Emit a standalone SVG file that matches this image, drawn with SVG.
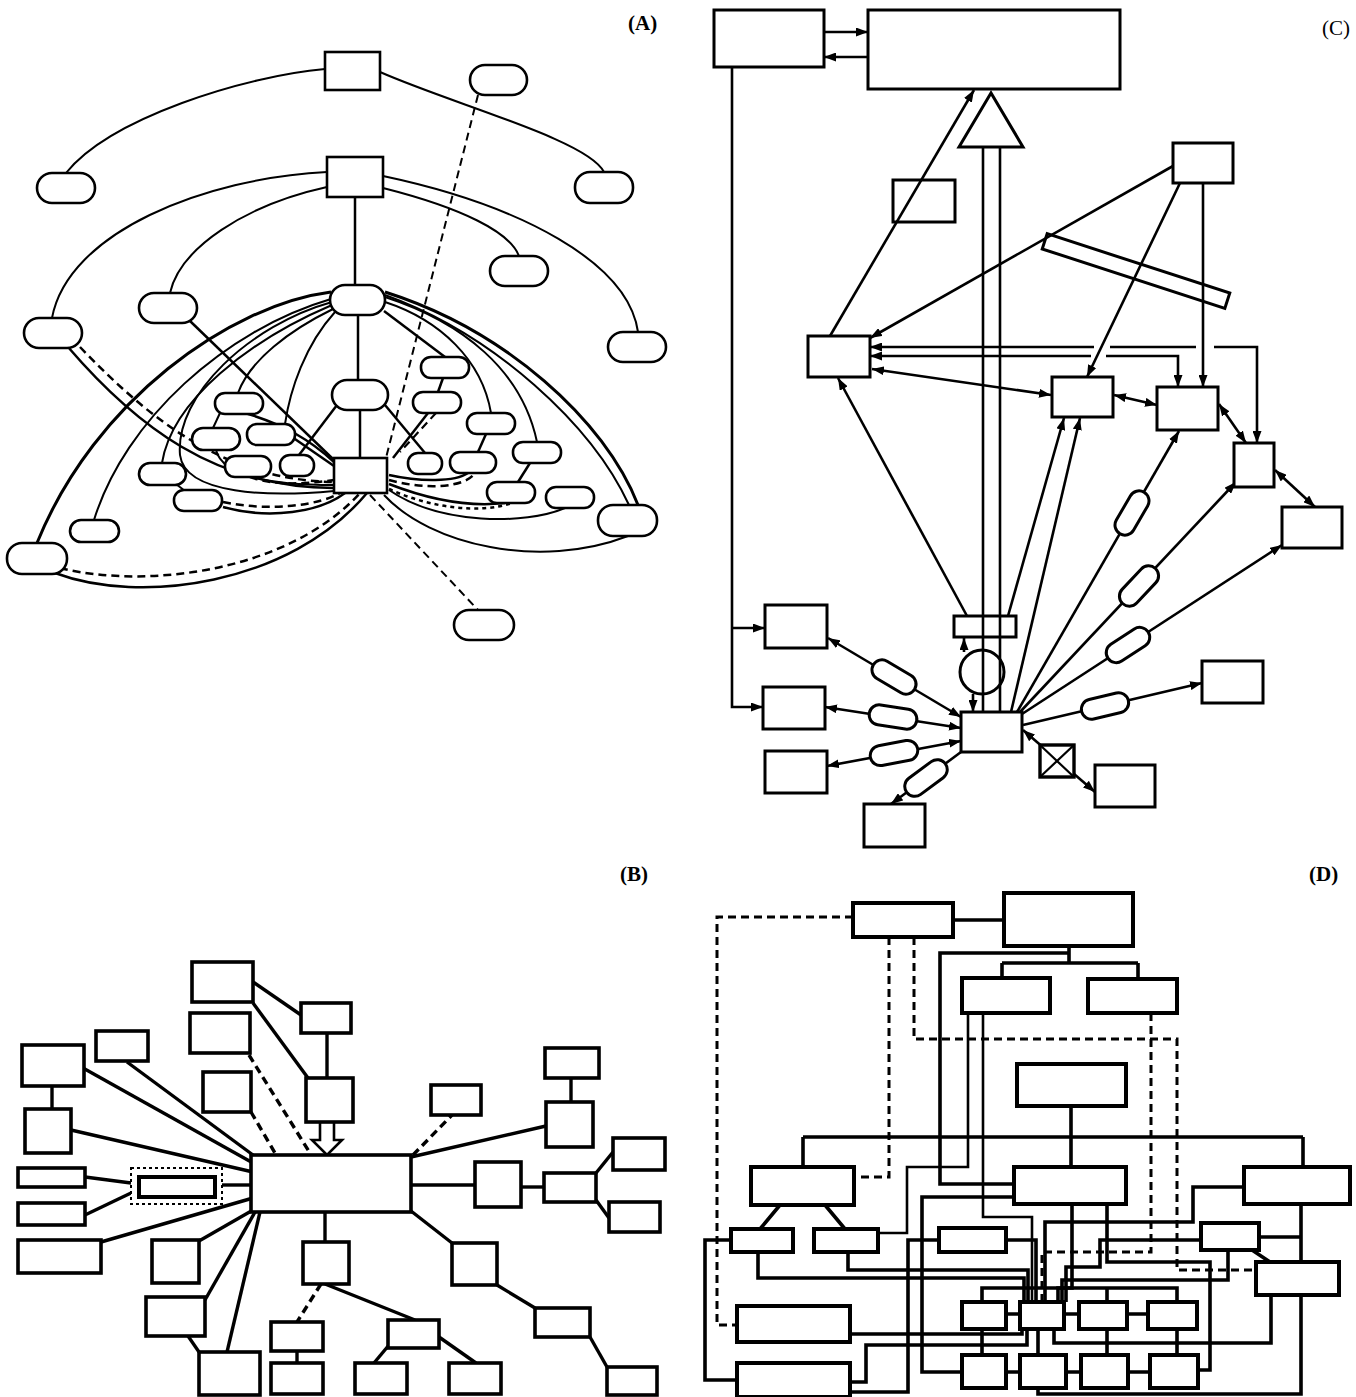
<svg xmlns="http://www.w3.org/2000/svg" width="1356" height="1397" viewBox="0 0 1356 1397">
<style>
.lbl{font-family:"Liberation Serif",serif;font-size:21px;fill:#000}
.b{font-weight:bold}
.n rect,.n circle,.n polygon{fill:#fff;stroke:#000}
.a rect{stroke-width:2.6}
.c rect{stroke-width:3}
.bb rect{stroke-width:3.6}
.d rect{stroke-width:4}
.e{fill:none;stroke:#000}
.ea path{stroke-width:2}
.ec path{stroke-width:2.6}
.eb path{stroke-width:3.4}
.ed path{stroke-width:3.6}
.dash{stroke-dasharray:8 5}
.dot{stroke-dasharray:4 4}
.n .open{fill:none}
</style>
<defs>
<marker id="ah" viewBox="0 0 12 9" refX="12" refY="4.5" markerWidth="12" markerHeight="9" markerUnits="userSpaceOnUse" orient="auto-start-reverse">
<path d="M0,0 L12,4.5 L0,9 z" fill="#000"/>
</marker>
</defs>
<rect width="1356" height="1397" fill="#fff"/>

<text class="lbl b" x="628" y="30">(A)</text>
<text class="lbl" x="1322" y="35">(C)</text>
<text class="lbl b" x="620" y="881">(B)</text>
<text class="lbl b" x="1309" y="881">(D)</text>

<g id="connectors">
<g id="conn-A" class="e ea">
<path d="M325,69 C245,76 110,118 66,173"/>
<path d="M380,72 C455,105 588,140 604,172"/>
<path class="dash" d="M478,95 L386,458"/>
<path d="M327,172 C205,178 68,232 52,318"/>
<path d="M327,187 C245,205 180,248 170,293"/>
<path d="M383,176 C520,205 628,262 638,332"/>
<path d="M383,188 C462,208 510,232 519,256"/>
<path d="M355,197 V285" style="stroke-width:2.5"/>
<path d="M358,315 V380" style="stroke-width:2.5"/>
<path d="M360,410 V458" style="stroke-width:2.5"/>
<path d="M337,405 L299,455" style="stroke-width:2.5"/>
<path d="M385,405 L425,453" style="stroke-width:2.5"/>
<path d="M331,292 C230,305 95,400 37,543" style="stroke-width:3"/>
<path d="M331,299 C225,330 125,420 94,520"/>
<path d="M332,305 C250,340 172,400 162,463"/>
<path d="M333,309 C290,330 250,360 238,393"/>
<path d="M335,312 C305,345 290,390 285,424"/>
<path d="M332,302 C250,325 175,395 180,455 C185,495 270,497 334,491"/>
<path d="M68,347 C135,425 215,488 334,488" style="stroke-width:2.5"/>
<path class="dash" d="M80,347 C150,420 225,480 334,482" style="stroke-width:2.5"/>
<path d="M190,321 L334,460" style="stroke-width:2.5"/>
<path d="M220,413 L213,428"/>
<path d="M245,413 C285,425 310,440 334,462" style="stroke-width:2.5"/>
<path d="M292,437 L334,466" style="stroke-width:2.5"/>
<path d="M216,450 C222,475 265,485 334,485"/>
<path class="dash" d="M250,477 C275,486 305,484 334,480" style="stroke-width:2.5"/>
<path d="M55,573 C140,605 290,585 367,493" style="stroke-width:2.5"/>
<path class="dash" d="M60,568 C150,590 290,570 360,493" style="stroke-width:2.5"/>
<path d="M176,484 L185,491"/>
<path d="M223,507 C270,520 320,512 345,493" style="stroke-width:2.5"/>
<path class="dash" d="M223,502 C270,512 320,505 340,493" style="stroke-width:2.5"/>
<path d="M445,357 L384,311" style="stroke-width:2.5"/>
<path d="M443,378 L438,392" style="stroke-width:2.5"/>
<path d="M428,413 L393,458" style="stroke-width:2.5"/>
<path class="dash" d="M436,413 L400,452" style="stroke-width:2.2"/>
<path d="M491,413 C482,360 440,320 385,302"/>
<path d="M486,434 L478,452" style="stroke-width:2.5"/>
<path d="M537,442 C522,370 462,322 385,297"/>
<path d="M530,463 L518,482" style="stroke-width:2.5"/>
<path d="M638,505 C605,420 505,330 385,292" style="stroke-width:3"/>
<path d="M629,505 C592,425 495,335 385,295"/>
<path d="M389,475 C420,482 455,482 468,473" style="stroke-width:2.5"/>
<path class="dash" d="M389,480 C425,490 465,488 475,473" style="stroke-width:2.5"/>
<path d="M389,484 C430,500 470,507 505,503" style="stroke-width:2.5"/>
<path class="dot" d="M389,489 C430,508 480,514 512,503" style="stroke-width:2.5"/>
<path d="M389,490 C440,525 525,525 565,508" style="stroke-width:2"/>
<path d="M384,495 C430,545 540,570 628,536" style="stroke-width:2"/>
<path class="dash" d="M370,495 L478,610" style="stroke-width:2"/>
</g>

<g id="conn-C" class="e ec">
<path d="M824,32 H868" marker-end="url(#ah)"/>
<path d="M868,57 H824" marker-end="url(#ah)"/>
<path d="M732,67 V707 H763" marker-end="url(#ah)"/>
<path d="M732,628 H765" marker-end="url(#ah)"/>
<path d="M830,336 L974,90" marker-end="url(#ah)"/>
<path d="M1173,166 L870,338" marker-end="url(#ah)"/>
<path d="M1180,183 L1087,377" marker-end="url(#ah)"/>
<path d="M1203,183 V387" marker-end="url(#ah)"/>
<path d="M1257,443 V347 H1214" marker-start="url(#ah)"/>
<path d="M1196,347 H1110"/>
<path d="M1094,347 H870" marker-end="url(#ah)"/>
<path d="M1178,387 V356 H1106" marker-start="url(#ah)"/>
<path d="M1091,356 H870" marker-end="url(#ah)"/>
<path d="M872,369 L1051,395" marker-start="url(#ah)" marker-end="url(#ah)"/>
<path d="M1114,395 L1157,405" marker-start="url(#ah)" marker-end="url(#ah)"/>
<path d="M1219,404 L1246,443" marker-start="url(#ah)" marker-end="url(#ah)"/>
<path d="M1275,470 L1315,507" marker-start="url(#ah)" marker-end="url(#ah)"/>
<path d="M967,616 L838,378" marker-end="url(#ah)"/>
<path d="M1008,616 L1064,418" marker-end="url(#ah)"/>
<path d="M1011,712 L1080,418" marker-end="url(#ah)"/>
<path d="M983,147 V712"/>
<path d="M1000,147 V712"/>
<path d="M964,652 V638" marker-end="url(#ah)"/>
<path d="M973,694 V712" marker-end="url(#ah)"/>
<path d="M961,717 L828,638" marker-start="url(#ah)" marker-end="url(#ah)"/>
<path d="M961,728 L825,707" marker-start="url(#ah)" marker-end="url(#ah)"/>
<path d="M961,741 L827,766" marker-start="url(#ah)" marker-end="url(#ah)"/>
<path d="M961,752 L891,804" marker-end="url(#ah)"/>
<path d="M1023,725 L1202,683" marker-end="url(#ah)"/>
<path d="M1023,730 L1095,792" marker-start="url(#ah)" marker-end="url(#ah)"/>
<path d="M1022,714 L1282,545" marker-end="url(#ah)"/>
<path d="M1020,712 L1236,482" marker-end="url(#ah)"/>
<path d="M1017,712 L1179,431" marker-end="url(#ah)"/>
</g>

<g id="conn-B" class="e eb">
<path d="M253,982 L301,1015"/>
<path d="M253,1003 L308,1078"/>
<path d="M327,1033 V1078"/>
<path d="M320,1122 V1140 H312 L327,1155 L342,1140 H334 V1122" style="fill:#fff;stroke-width:2.6"/>
<path class="dash" d="M249,1055 L310,1153"/>
<path class="dash" d="M251,1112 L275,1153"/>
<path d="M127,1062 L253,1155"/>
<path d="M83,1068 L253,1163"/>
<path d="M52,1086 V1109"/>
<path d="M71,1130 L253,1172"/>
<path d="M222,1185 H253"/>
<path d="M85,1177 L131,1183"/>
<path d="M85,1215 L131,1193"/>
<path d="M101,1242 L253,1198"/>
<path d="M199,1241 L253,1210"/>
<path d="M205,1300 L255,1212"/>
<path d="M227,1352 L260,1212"/>
<path d="M199,1352 L188,1336"/>
<path d="M325,1212 V1242"/>
<path class="dash" d="M321,1284 L297,1322"/>
<path d="M325,1284 L415,1320"/>
<path d="M297,1351 V1363"/>
<path d="M389,1345 L374,1363"/>
<path d="M439,1337 L476,1363"/>
<path d="M411,1211 L452,1243"/>
<path d="M497,1285 L535,1308"/>
<path d="M590,1337 L607,1367"/>
<path d="M411,1185 H475"/>
<path d="M521,1187 H544"/>
<path d="M596,1173 L613,1152"/>
<path d="M596,1200 L609,1218"/>
<path d="M571,1078 V1102"/>
<path d="M411,1157 L546,1126"/>
<path class="dash" d="M413,1155 L452,1115"/>
</g>

<g id="conn-D" class="e ed">
<path d="M953,920 H1004"/>
<path class="dash" d="M853,917 H717 V1325 H737" style="stroke-width:3"/>
<path class="dash" d="M889,937 V1177 H854" style="stroke-width:3"/>
<path class="dash" d="M914,937 V1039 H1177 V1270 H1256" style="stroke-width:3"/>
<path class="dash" d="M1151,1013 V1252 H1042 V1300" style="stroke-width:3"/>
<path d="M1069,946 V963 M1002,963 H1138 M1002,963 V978 M1138,963 V979"/>
<path d="M1069,953 H940 V1184 H1014"/>
<path d="M968,1013 V1167 H907 V1233 H878" style="stroke-width:2.6"/>
<path d="M983,1013 V1217 H1032 V1302" style="stroke-width:2.6"/>
<path d="M1071,1106 V1137 M803,1137 H1303 M803,1137 V1167 M1071,1137 V1167 M1303,1137 V1167"/>
<path d="M780,1205 L760,1229 M825,1205 L845,1229"/>
<path d="M731,1240 H705 V1380 H737"/>
<path d="M758,1252 V1278 H1024 V1302"/>
<path d="M848,1252 V1270 H1028 V1302"/>
<path d="M1006,1240 H1036 V1302"/>
<path d="M1014,1197 H922 V1372 H962"/>
<path d="M850,1334 H1022 V1329"/>
<path d="M850,1382 H866 V1345 H1027 V1329"/>
<path d="M850,1392 H908 V1240 H939"/>
<path d="M1072,1204 V1288 H1058 V1302"/>
<path d="M1107,1204 V1262 H1210 V1370 H1198"/>
<path d="M1201,1240 H1100 V1267 H1066 V1302"/>
<path d="M1045,1302 V1222 H1193 V1187 H1244"/>
<path d="M1228,1250 V1280 H1062 V1302"/>
<path d="M982,1302 V1288 H1177 V1302 M1107,1288 V1302"/>
<path d="M1006,1314 H1020 M1064,1314 H1079 M1127,1314 H1148"/>
<path d="M1006,1372 H1020 M1066,1372 H1081 M1128,1372 H1150"/>
<path d="M982,1329 V1355 M1038,1329 V1355 M1107,1329 V1355 M1177,1329 V1355"/>
<path d="M1054,1329 V1343 H1271 V1295"/>
<path d="M1038,1388 V1394 H1301 V1295"/>
<path d="M1301,1204 V1262 M1259,1237 H1301 M1252,1250 L1270,1262"/>
</g>
</g>

<g id="nodes-A" class="n a">
<g id="a-r1"><rect x="325" y="52" width="55" height="38"/></g>
<g id="a-r2"><rect x="327" y="157" width="56" height="40"/></g>
<g id="a-r3"><rect x="334" y="458" width="53" height="35"/></g>
<g id="a-c1"><rect x="470" y="65" width="57" height="30" rx="15"/></g>
<g id="a-c2"><rect x="37" y="173" width="58" height="30" rx="15"/></g>
<g id="a-c3"><rect x="575" y="172" width="58" height="31" rx="15"/></g>
<g id="a-c4"><rect x="490" y="256" width="58" height="30" rx="15"/></g>
<g id="a-c5"><rect x="139" y="293" width="58" height="30" rx="15"/></g>
<g id="a-c6"><rect x="330" y="285" width="55" height="30" rx="15"/></g>
<g id="a-c7"><rect x="24" y="318" width="58" height="30" rx="15"/></g>
<g id="a-c8"><rect x="608" y="332" width="58" height="30" rx="15"/></g>
<g id="a-c9"><rect x="332" y="380" width="56" height="30" rx="15"/></g>
<g id="a-s1"><rect x="215" y="393" width="48" height="21" rx="10"/></g>
<g id="a-s2"><rect x="192" y="428" width="48" height="22" rx="11"/></g>
<g id="a-s3"><rect x="247" y="424" width="48" height="21" rx="10"/></g>
<g id="a-s4"><rect x="225" y="456" width="46" height="21" rx="10"/></g>
<g id="a-s5"><rect x="280" y="455" width="34" height="21" rx="10"/></g>
<g id="a-s6"><rect x="139" y="463" width="47" height="22" rx="11"/></g>
<g id="a-s7"><rect x="174" y="490" width="48" height="21" rx="10"/></g>
<g id="a-s8"><rect x="70" y="520" width="49" height="22" rx="11"/></g>
<g id="a-c10"><rect x="7" y="543" width="60" height="31" rx="15"/></g>
<g id="a-s9"><rect x="421" y="357" width="48" height="21" rx="10"/></g>
<g id="a-s10"><rect x="413" y="392" width="48" height="21" rx="10"/></g>
<g id="a-s11"><rect x="467" y="413" width="48" height="21" rx="10"/></g>
<g id="a-s12"><rect x="513" y="442" width="48" height="21" rx="10"/></g>
<g id="a-s13"><rect x="408" y="453" width="34" height="21" rx="10"/></g>
<g id="a-s14"><rect x="450" y="452" width="46" height="21" rx="10"/></g>
<g id="a-s15"><rect x="487" y="482" width="48" height="21" rx="10"/></g>
<g id="a-s16"><rect x="546" y="487" width="48" height="21" rx="10"/></g>
<g id="a-c11"><rect x="598" y="505" width="59" height="31" rx="15"/></g>
<g id="a-c12"><rect x="454" y="610" width="60" height="30" rx="15"/></g>
</g>

<g id="nodes-C" class="n c">
<g id="c-tl"><rect x="714" y="10" width="110" height="57"/></g>
<g id="c-big"><rect x="868" y="10" width="252" height="79"/></g>
<g id="c-tri"><polygon points="991,93 959,147 1023,147" style="stroke-width:3"/></g>
<g id="c-small"><rect class="open" x="893" y="180" width="62" height="42"/></g>
<g id="c-tr"><rect x="1173" y="143" width="60" height="40"/></g>
<g id="c-bar"><rect class="open" x="-96" y="-8" width="192" height="16" transform="translate(1136,271) rotate(18)"/></g>
<g id="c-lm"><rect x="808" y="336" width="62" height="41"/></g>
<g id="c-m"><rect x="1052" y="377" width="61" height="40"/></g>
<g id="c-mr"><rect x="1157" y="387" width="61" height="43"/></g>
<g id="c-r1"><rect x="1234" y="443" width="40" height="44"/></g>
<g id="c-r2"><rect x="1282" y="507" width="60" height="41"/></g>
<g id="c-sr"><rect class="open" x="954" y="616" width="62" height="21"/></g>
<g id="c-circ"><circle cx="982" cy="672" r="22" style="fill:none;stroke-width:3"/></g>
<g id="c-ctr"><rect x="961" y="712" width="61" height="40"/></g>
<g id="c-l1"><rect x="765" y="605" width="62" height="43"/></g>
<g id="c-l2"><rect x="763" y="687" width="62" height="42"/></g>
<g id="c-l3"><rect x="765" y="751" width="62" height="42"/></g>
<g id="c-b"><rect x="864" y="804" width="61" height="43"/></g>
<g id="c-r3"><rect x="1202" y="661" width="61" height="42"/></g>
<g id="c-r4"><rect x="1095" y="765" width="60" height="42"/></g>
<g id="c-x"><rect x="1040" y="745" width="34" height="32" style="stroke-width:3.4"/><path d="M1040,745 L1074,777 M1074,745 L1040,777" stroke="#000" stroke-width="2.2" fill="none"/></g>
<g id="c-cap1"><rect x="-24" y="-10" width="48" height="20" rx="10" transform="translate(894,677) rotate(30.7)"/></g>
<g id="c-cap2"><rect x="-24" y="-10" width="48" height="20" rx="10" transform="translate(893,717) rotate(8.8)"/></g>
<g id="c-cap3"><rect x="-24" y="-10" width="48" height="20" rx="10" transform="translate(894,753) rotate(-10.6)"/></g>
<g id="c-cap4"><rect x="-24" y="-10" width="48" height="20" rx="10" transform="translate(926,778) rotate(-36.6)"/></g>
<g id="c-cap5"><rect x="-24" y="-10" width="48" height="20" rx="10" transform="translate(1105,706) rotate(-13.2)"/></g>
<g id="c-cap6"><rect x="-24" y="-10" width="48" height="20" rx="10" transform="translate(1128,645) rotate(-33)"/></g>
<g id="c-cap7"><rect x="-24" y="-10" width="48" height="20" rx="10" transform="translate(1139,586) rotate(-46.8)"/></g>
<g id="c-cap8"><rect x="-24" y="-10" width="48" height="20" rx="10" transform="translate(1132,513) rotate(-60)"/></g>
</g>

<g id="nodes-B" class="n bb">
<g id="b0"><rect x="251" y="1155" width="160" height="57"/></g>
<g id="b1"><rect x="192" y="962" width="61" height="40"/></g>
<g id="b2"><rect x="301" y="1003" width="50" height="30"/></g>
<g id="b3"><rect x="190" y="1013" width="60" height="40"/></g>
<g id="b4"><rect x="96" y="1031" width="52" height="30"/></g>
<g id="b5"><rect x="22" y="1045" width="62" height="41"/></g>
<g id="b6"><rect x="203" y="1072" width="48" height="40"/></g>
<g id="b7"><rect x="306" y="1078" width="47" height="44"/></g>
<g id="b8"><rect x="431" y="1085" width="50" height="30"/></g>
<g id="b9"><rect x="545" y="1048" width="54" height="30"/></g>
<g id="b10"><rect x="25" y="1109" width="46" height="44"/></g>
<g id="b11"><rect x="546" y="1102" width="47" height="45"/></g>
<g id="b12"><rect x="613" y="1138" width="52" height="32"/></g>
<g id="b13"><rect x="475" y="1162" width="46" height="45"/></g>
<g id="b14"><rect x="544" y="1173" width="52" height="29"/></g>
<g id="b15"><rect x="609" y="1202" width="51" height="30"/></g>
<g id="b16"><rect x="18" y="1168" width="67" height="19"/></g>
<g id="b17"><rect x="18" y="1203" width="67" height="22"/></g>
<g id="b-group"><rect x="131" y="1168" width="91" height="36" style="stroke-width:2;stroke-dasharray:3 3"/><rect x="139" y="1177" width="76" height="20" style="stroke-width:4"/></g>
<g id="b18"><rect x="18" y="1240" width="83" height="33"/></g>
<g id="b19"><rect x="152" y="1240" width="47" height="43"/></g>
<g id="b20"><rect x="303" y="1242" width="46" height="42"/></g>
<g id="b21"><rect x="452" y="1243" width="45" height="42"/></g>
<g id="b22"><rect x="146" y="1297" width="59" height="39"/></g>
<g id="b23"><rect x="271" y="1322" width="52" height="29"/></g>
<g id="b24"><rect x="388" y="1320" width="51" height="28"/></g>
<g id="b25"><rect x="535" y="1308" width="55" height="29"/></g>
<g id="b26"><rect x="199" y="1352" width="61" height="43"/></g>
<g id="b27"><rect x="271" y="1363" width="52" height="31"/></g>
<g id="b28"><rect x="355" y="1363" width="52" height="31"/></g>
<g id="b29"><rect x="449" y="1363" width="52" height="31"/></g>
<g id="b30"><rect x="607" y="1367" width="50" height="28"/></g>
</g>

<g id="nodes-D" class="n d">
<g id="d1"><rect x="853" y="903" width="100" height="34"/></g>
<g id="d2"><rect x="1004" y="893" width="129" height="53"/></g>
<g id="d3"><rect x="962" y="978" width="88" height="35"/></g>
<g id="d4"><rect x="1088" y="979" width="89" height="34"/></g>
<g id="d5"><rect x="1017" y="1064" width="109" height="42"/></g>
<g id="d6"><rect x="751" y="1167" width="103" height="38"/></g>
<g id="d7"><rect x="1014" y="1167" width="112" height="37"/></g>
<g id="d8"><rect x="1244" y="1167" width="106" height="37"/></g>
<g id="d9"><rect x="731" y="1229" width="62" height="23"/></g>
<g id="d10"><rect x="814" y="1229" width="64" height="23"/></g>
<g id="d11"><rect x="939" y="1228" width="67" height="24"/></g>
<g id="d12"><rect x="1201" y="1223" width="58" height="27"/></g>
<g id="d13"><rect x="1256" y="1262" width="83" height="33"/></g>
<g id="d14"><rect x="737" y="1306" width="113" height="36"/></g>
<g id="d15"><rect x="737" y="1363" width="113" height="34"/></g>
<g id="d16"><rect x="962" y="1302" width="44" height="27"/></g>
<g id="d17"><rect x="1020" y="1302" width="44" height="27"/></g>
<g id="d18"><rect x="1079" y="1302" width="48" height="27"/></g>
<g id="d19"><rect x="1148" y="1302" width="49" height="27"/></g>
<g id="d20"><rect x="962" y="1355" width="44" height="33"/></g>
<g id="d21"><rect x="1020" y="1355" width="46" height="33"/></g>
<g id="d22"><rect x="1081" y="1355" width="47" height="33"/></g>
<g id="d23"><rect x="1150" y="1355" width="48" height="33"/></g>
</g>
</svg>
